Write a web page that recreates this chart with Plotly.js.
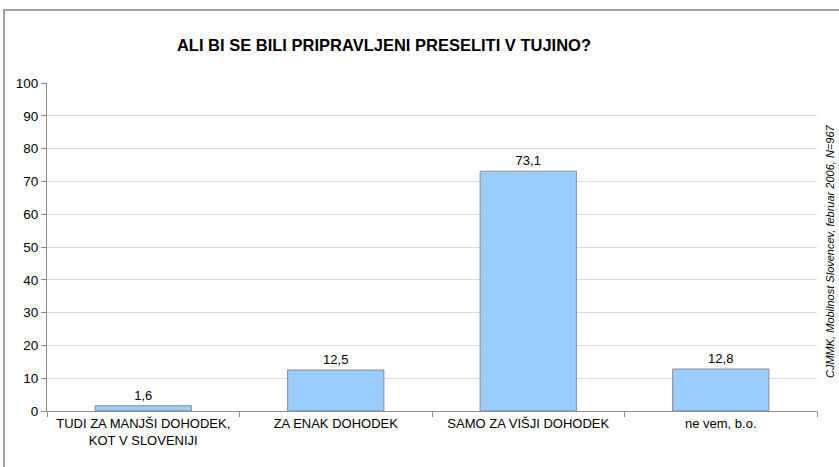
<!DOCTYPE html>
<html>
<head>
<meta charset="utf-8">
<script src="https://cdn.plot.ly/plotly-3.0.1.min.js"></script>
<style>
html,body{margin:0;padding:0;background:#fff;}
#wrap{position:relative;width:839px;height:467px;}
#chart{position:absolute;left:0;top:0;width:839px;height:467px;}
#frame{position:absolute;left:3px;top:9px;width:900px;height:600px;border-left:2px solid #a0a0a0;border-top:2px solid #a0a0a0;pointer-events:none;}
</style>
</head>
<body>
<div id="wrap"><div id="chart"></div><div id="frame"></div></div>
<script>
const categories = ["TUDI ZA MANJŠI DOHODEK,<br>KOT V SLOVENIJI", "ZA ENAK DOHODEK", "SAMO ZA VIŠJI DOHODEK", "ne vem, b.o."];
const values = [1.6, 12.5, 73.1, 12.8];
const yTicks = [0, 10, 20, 30, 40, 50, 60, 70, 80, 90, 100];
const labels = values.map(v => v.toFixed(1).replace('.', ','));

const FONT = 'Liberation Sans, Arial, sans-serif';

const trace = {
  type: 'bar',
  x: categories,
  y: values,
  text: labels,
  textposition: 'outside',
  cliponaxis: false,
  textfont: {family: FONT, size: 13, color: '#000'},
  marker: {color: '#99CCFF', line: {color: '#8c8c8c', width: 1}},
  width: 0.5,
  hoverinfo: 'none'
};

const layout = {
  width: 839, height: 467,
  margin: {l: 47, r: 22, t: 83, b: 56},
  paper_bgcolor: '#fff', plot_bgcolor: '#fff',
  showlegend: false,
  title: {
    text: '<b>ALI BI SE BILI PRIPRAVLJENI PRESELITI V TUJINO?</b>',
    font: {family: FONT, size: 16.5, color: '#000'},
    xref: 'container', x: 384 / 839, xanchor: 'center',
    yref: 'container', y: 1 - 45 / 467, yanchor: 'middle'
  },
  xaxis: {
    type: 'category',
    showgrid: false,
    showline: true, linecolor: '#8c8c8c', linewidth: 1,
    ticks: 'outside', tickson: 'boundaries', ticklen: 5, tickcolor: '#8c8c8c',
    tickfont: {family: FONT, size: 13, color: '#000'},
    fixedrange: true
  },
  yaxis: {
    range: [0, 100],
    tickvals: yTicks,
    ticktext: yTicks.map(String),
    showgrid: true, gridcolor: '#dcdcdc', gridwidth: 1,
    showline: true, linecolor: '#8c8c8c', linewidth: 1,
    ticks: 'outside', ticklen: 5, tickcolor: '#8c8c8c',
    tickfont: {family: FONT, size: 13.5, color: '#000'},
    zeroline: false,
    fixedrange: true
  },
  annotations: [{
    text: '<i>CJMMK, Mobilnost Slovencev, februar 2006, N=967</i>',
    xref: 'paper', yref: 'paper',
    x: (830 - 47) / 770, y: 1 - (252 - 83) / 328,
    xanchor: 'center', yanchor: 'middle',
    textangle: -90, showarrow: false,
    font: {family: FONT, size: 11, color: '#000'}
  }]
};

Plotly.newPlot('chart', [trace], layout, {displayModeBar: false, staticPlot: true});
</script>
</body>
</html>
